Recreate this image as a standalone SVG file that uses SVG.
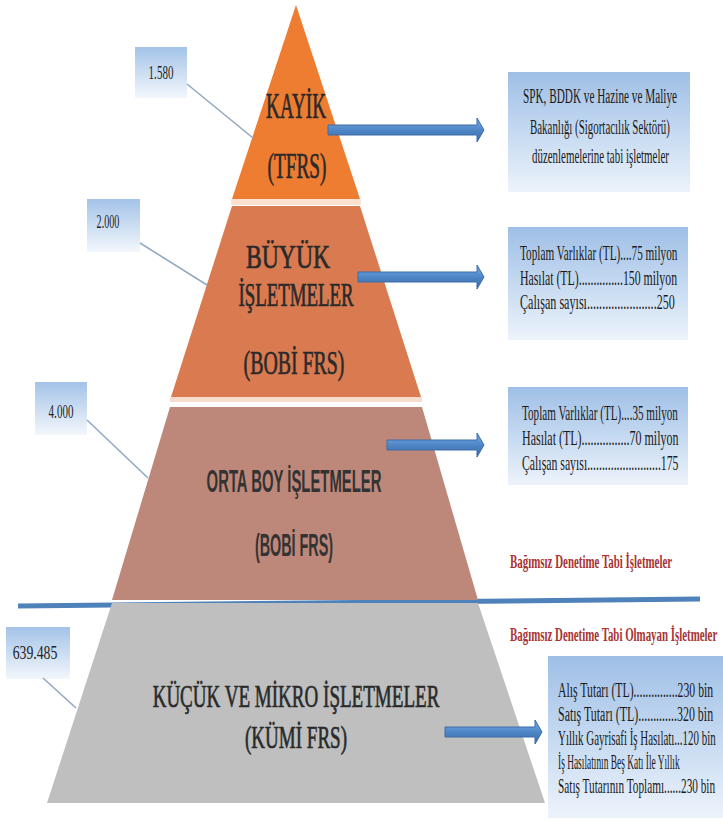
<svg xmlns="http://www.w3.org/2000/svg" width="723" height="822" viewBox="0 0 723 822">
<defs>
<linearGradient id="gBox" x1="0" y1="0" x2="0" y2="1">
<stop offset="0" stop-color="#9fbfe6"/>
<stop offset="0.55" stop-color="#c9dcf2"/>
<stop offset="1" stop-color="#edf3fb"/>
</linearGradient>
<linearGradient id="gNum" x1="0" y1="0" x2="0" y2="1">
<stop offset="0" stop-color="#a3c3e8"/>
<stop offset="1" stop-color="#f3f7fc"/>
</linearGradient>
<linearGradient id="gArrow" x1="0" y1="0" x2="0" y2="1">
<stop offset="0" stop-color="#7aaee3"/>
<stop offset="0.5" stop-color="#4f86c6"/>
<stop offset="1" stop-color="#3a6aa6"/>
</linearGradient>
</defs>
<style>
.lvl{font-family:"Liberation Serif","Times New Roman",serif;fill:#2a2a2a;stroke:#2a2a2a;stroke-width:0.7;text-anchor:middle}
.lvls{font-family:"Liberation Sans",Arial,sans-serif;font-weight:bold;fill:#333;text-anchor:middle}
.box{fill:url(#gBox)}
.num{fill:url(#gNum)}
.bt{font-family:"Liberation Serif","Times New Roman",serif;fill:#1a1a1a}
.nt{font-family:"Liberation Serif","Times New Roman",serif;font-size:18px;fill:#222;text-anchor:middle}
.red{font-family:"Liberation Serif","Times New Roman",serif;font-weight:bold;font-size:19px;fill:#a83434}
.lead{stroke:#93a9c2;stroke-width:1.6;fill:none}
.arrow{fill:url(#gArrow);stroke:#3c6da8;stroke-width:1}
</style>
<rect width="723" height="822" fill="#ffffff"/>

<g id="separator">
<line x1="18" y1="606" x2="700" y2="599" stroke="#4f82bb" stroke-width="5"/>
</g>

<g id="node-kayik">
<polygon points="296,5 360,199 232,199" fill="#ee7d32"/>
<rect x="231" y="199" width="130" height="6" fill="#fbe2d0"/>
<text class="lvl" transform="translate(296,118) scale(0.53,1)" font-size="36" textLength="113" lengthAdjust="spacingAndGlyphs">KAYİK</text>
<text class="lvl" transform="translate(297,178) scale(0.54,1)" font-size="36" textLength="109" lengthAdjust="spacingAndGlyphs">(TFRS)</text>
</g>

<g id="node-buyuk">
<polygon points="232,206 360,206 421,397 171,397" fill="#d97a50"/>
<rect x="170" y="397" width="252" height="5" fill="#f6dccd"/>
<text class="lvl" transform="translate(288,268) scale(0.7,1)" font-size="33" textLength="120" lengthAdjust="spacingAndGlyphs">BÜYÜK</text>
<text class="lvl" transform="translate(296,306) scale(0.57,1)" font-size="33" textLength="202" lengthAdjust="spacingAndGlyphs">İŞLETMELER</text>
<text class="lvl" transform="translate(294,374) scale(0.6,1)" font-size="33" textLength="168" lengthAdjust="spacingAndGlyphs">(BOBİ FRS)</text>
</g>

<g id="node-orta">
<polygon points="170,407 422,407 478,600 112,600" fill="#bd877a"/>
<text class="lvls" transform="translate(294,492) scale(0.47,1)" font-size="31" textLength="372" lengthAdjust="spacingAndGlyphs">ORTA BOY İŞLETMELER</text>
<text class="lvls" transform="translate(294,556) scale(0.46,1)" font-size="31" textLength="170" lengthAdjust="spacingAndGlyphs">(BOBİ FRS)</text>
</g>

<g id="node-kucuk">
<polygon points="112,603 478,603 545,803 47,803" fill="#bfbfbf"/>
<text class="lvl" transform="translate(296,707) scale(0.59,1)" font-size="32" textLength="486" lengthAdjust="spacingAndGlyphs">KÜÇÜK VE MİKRO İŞLETMELER</text>
<text class="lvl" transform="translate(296,748) scale(0.59,1)" font-size="32" textLength="173" lengthAdjust="spacingAndGlyphs">(KÜMİ FRS)</text>
</g>

<g id="num-1580">
<rect class="num" x="135" y="47" width="52" height="51"/>
<text class="nt" transform="translate(161,79) scale(0.62,1)" textLength="40" lengthAdjust="spacingAndGlyphs">1.580</text>
</g>
<g id="num-2000">
<rect class="num" x="87" y="199" width="53" height="53"/>
<text class="nt" transform="translate(108,228) scale(0.57,1)" textLength="40" lengthAdjust="spacingAndGlyphs">2.000</text>
</g>
<g id="num-4000">
<rect class="num" x="35" y="382" width="52" height="53"/>
<text class="nt" transform="translate(61,418) scale(0.62,1)" textLength="40" lengthAdjust="spacingAndGlyphs">4.000</text>
</g>
<g id="num-639485">
<rect class="num" x="6" y="627" width="64" height="52"/>
<text class="nt" transform="translate(35,659) scale(0.77,1)" textLength="58" lengthAdjust="spacingAndGlyphs">639.485</text>
</g>

<g id="info-kayik">
<rect class="box" x="508" y="72" width="182" height="120"/>
<text class="bt" transform="translate(523,103) scale(0.558,1)" font-size="20" textLength="276" lengthAdjust="spacingAndGlyphs">SPK, BDDK ve Hazine ve Maliye</text>
<text class="bt" transform="translate(530,134) scale(0.522,1)" font-size="20" textLength="268" lengthAdjust="spacingAndGlyphs">Bakanlığı (Sigortacılık Sektörü)</text>
<text class="bt" transform="translate(532,163) scale(0.513,1)" font-size="20" textLength="267" lengthAdjust="spacingAndGlyphs">düzenlemelerine tabi işletmeler</text>
</g>

<g id="info-buyuk">
<rect class="box" x="508" y="227" width="180" height="113"/>
<text class="bt" transform="translate(520,260) scale(0.525,1)" font-size="21" textLength="300" lengthAdjust="spacingAndGlyphs">Toplam Varlıklar (TL)....75 milyon</text>
<text class="bt" transform="translate(520,285) scale(0.561,1)" font-size="21" textLength="280" lengthAdjust="spacingAndGlyphs">Hasılat (TL)...............150 milyon</text>
<text class="bt" transform="translate(520,309) scale(0.561,1)" font-size="21" textLength="276" lengthAdjust="spacingAndGlyphs">Çalışan sayısı.......................250</text>
</g>

<g id="info-orta">
<rect class="box" x="508" y="387" width="180" height="98"/>
<text class="bt" transform="translate(522,420) scale(0.525,1)" font-size="21" textLength="297" lengthAdjust="spacingAndGlyphs">Toplam Varlıklar (TL)....35 milyon</text>
<text class="bt" transform="translate(522,445) scale(0.561,1)" font-size="21" textLength="279" lengthAdjust="spacingAndGlyphs">Hasılat (TL)................70 milyon</text>
<text class="bt" transform="translate(522,470) scale(0.561,1)" font-size="21" textLength="279" lengthAdjust="spacingAndGlyphs">Çalışan sayısı.........................175</text>
</g>

<g id="info-kucuk">
<rect class="box" x="548" y="656" width="175" height="162"/>
<text class="bt" transform="translate(558,697) scale(0.558,1)" font-size="20" textLength="278" lengthAdjust="spacingAndGlyphs">Alış Tutarı (TL)...............230 bin</text>
<text class="bt" transform="translate(558,721) scale(0.558,1)" font-size="20" textLength="278" lengthAdjust="spacingAndGlyphs">Satış Tutarı (TL).............320 bin</text>
<text class="bt" transform="translate(558,745) scale(0.54,1)" font-size="20" textLength="292" lengthAdjust="spacingAndGlyphs">Yıllık Gayrisafi İş Hasılatı...120 bin</text>
<text class="bt" transform="translate(558,769) scale(0.522,1)" font-size="20" textLength="233" lengthAdjust="spacingAndGlyphs">İş Hasılatının Beş Katı İle Yıllık</text>
<text class="bt" transform="translate(558,793) scale(0.54,1)" font-size="20" textLength="291" lengthAdjust="spacingAndGlyphs">Satış Tutarının Toplamı......230 bin</text>
</g>

<g id="labels-audit">
<text class="red" transform="translate(510,568) scale(0.537,1)" textLength="302" lengthAdjust="spacingAndGlyphs">Bağımsız Denetime Tabi İşletmeler</text>
<text class="red" transform="translate(510,641) scale(0.537,1)" textLength="386" lengthAdjust="spacingAndGlyphs">Bağımsız Denetime Tabi Olmayan İşletmeler</text>
</g>

<g id="connectors">
<line class="lead" x1="187" y1="84" x2="253" y2="138"/>
<line class="lead" x1="140" y1="243" x2="207" y2="285"/>
<line class="lead" x1="87" y1="420" x2="148" y2="478"/>
<line class="lead" x1="43" y1="678" x2="76" y2="708"/>
<polygon class="arrow" points="328,125 477,125 477,118 484,130 477,142 477,135 328,135"/>
<polygon class="arrow" points="358,272 477,272 477,265 484,277 477,289 477,282 358,282"/>
<polygon class="arrow" points="387,440 477,440 477,433 484,445 477,457 477,450 387,450"/>
<polygon class="arrow" points="445,727 535,727 535,720 542,732 535,744 535,737 445,737"/>
</g>
</svg>
